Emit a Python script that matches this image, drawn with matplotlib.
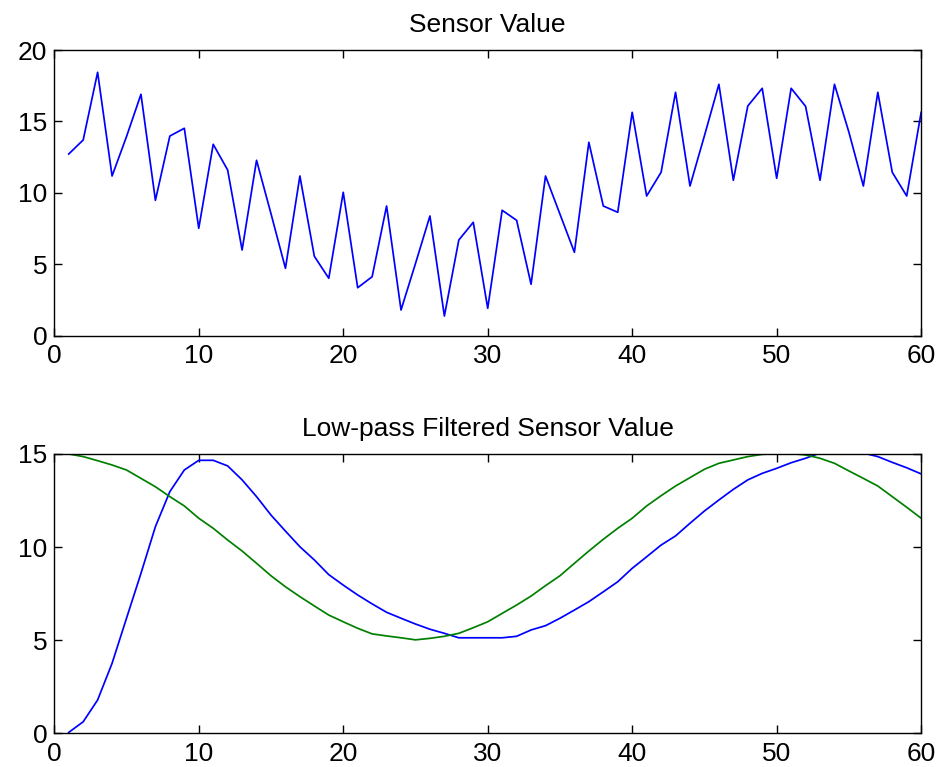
import numpy as np
import matplotlib
matplotlib.use('Agg')
import matplotlib.pyplot as plt

# sample index
t = np.arange(1, 61)

# raw sensor reading
sensor = [12.72, 13.70, 18.44, 11.18, 13.94, 16.90, 9.48, 13.98, 14.52, 7.52,
          13.40, 11.60, 6.00, 12.28, 8.54, 4.72, 11.18, 5.56, 4.02, 10.04,
          3.36, 4.13, 9.08, 1.80, 5.05, 8.38, 1.38, 6.70, 7.94, 1.92,
          8.78, 8.08, 3.60, 11.18, 8.51, 5.84, 13.54, 9.08, 8.64, 15.64,
          9.78, 11.44, 17.04, 10.48, 14.00, 17.60, 10.88, 16.08, 17.32, 11.02,
          17.32, 16.06, 10.88, 17.60, 14.24, 10.48, 17.04, 11.44, 9.78, 15.64]

# filter output (blue) and reference (green)
filtered = [0.05, 0.62, 1.79, 3.76, 6.18, 8.59, 11.10, 12.98, 14.14, 14.66,
            14.66, 14.36, 13.61, 12.71, 11.72, 10.86, 10.02, 9.31, 8.52, 7.96,
            7.43, 6.95, 6.50, 6.18, 5.87, 5.59, 5.37, 5.13, 5.13, 5.13,
            5.13, 5.21, 5.55, 5.78, 6.18, 6.62, 7.07, 7.60, 8.14, 8.86,
            9.48, 10.11, 10.60, 11.28, 11.94, 12.53, 13.10, 13.61, 13.96, 14.23,
            14.53, 14.77, 15.05, 15.20, 15.20, 15.05, 14.86, 14.55, 14.26, 13.93]

reference = [15.00, 14.86, 14.64, 14.41, 14.14, 13.69, 13.24, 12.71, 12.21, 11.55,
             11.01, 10.38, 9.79, 9.13, 8.46, 7.87, 7.34, 6.84, 6.35, 5.99,
             5.64, 5.34, 5.23, 5.13, 5.02, 5.10, 5.21, 5.37, 5.67, 5.99,
             6.44, 6.89, 7.37, 7.93, 8.46, 9.13, 9.79, 10.42, 11.01, 11.55,
             12.21, 12.76, 13.28, 13.73, 14.18, 14.50, 14.68, 14.86, 14.98, 15.02,
             15.02, 14.95, 14.77, 14.50, 14.09, 13.69, 13.28, 12.71, 12.14, 11.55]

plt.rcParams['font.family'] = ['Liberation Sans', 'DejaVu Sans']
plt.rcParams['font.size'] = 19

fig = plt.figure(figsize=(9.39, 7.67), dpi=100)
ax1 = fig.add_axes([0.0578, 0.5623, 0.9232, 0.3725])
ax2 = fig.add_axes([0.0578, 0.0439, 0.9232, 0.3642])


def matlab_style(ax):
    for s in ax.spines.values():
        s.set_linewidth(1.0)
    ax.tick_params(direction='in', top=True, right=True, length=6, width=1.0,
                   labelsize=19)
    ax.tick_params(axis='y', pad=5)
    ax.tick_params(axis='x', pad=6)
    ax.set_xlim(0, 60)
    ax.set_xticks([0, 10, 20, 30, 40, 50, 60])


ax1.plot(t, sensor, color='#0000FF', lw=1.25)
matlab_style(ax1)
ax1.set_ylim(0, 20)
ax1.set_yticks([0, 5, 10, 15, 20])
ax1.set_title('Sensor Value', fontsize=19, pad=13)

ax2.plot(t, filtered, color='#0000FF', lw=1.25)
ax2.plot(t, reference, color='#008000', lw=1.25)
matlab_style(ax2)
ax2.set_ylim(0, 15)
ax2.set_yticks([0, 5, 10, 15])
ax2.set_title('Low-pass Filtered Sensor Value', fontsize=19, pad=13)

fig.savefig('out.png', dpi=100)
